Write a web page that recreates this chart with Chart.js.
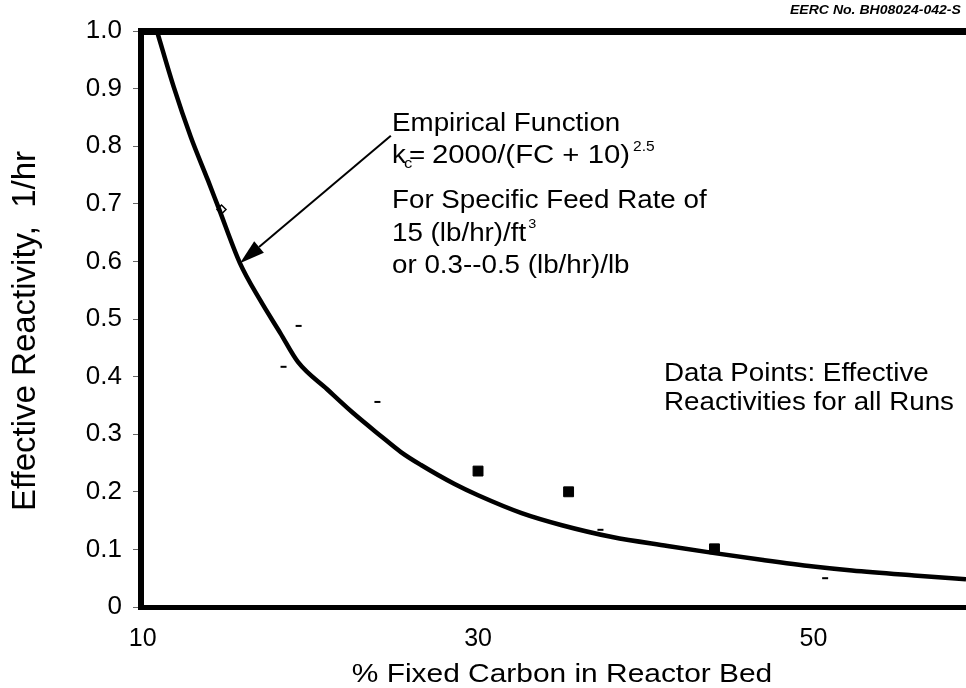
<!DOCTYPE html>
<html>
<head>
<meta charset="utf-8">
<title>Effective Reactivity</title>
<script src="https://cdn.jsdelivr.net/npm/chart.js@4"></script>
<style>
  html, body { margin:0; padding:0; background:#fff; overflow:hidden; }
  #wrap { width:966px; height:688px; }
</style>
</head>
<body>
<div id="wrap"><canvas id="grafReact" width="966" height="688"></canvas></div>
<script>
/* Reactividad efectiva vs. % carbono fijo en el lecho */

// curva empírica, punto a punto
const curveFC = [10.85, 11.85, 12.87, 13.89, 14.5, 15.8, 17.0, 18.2, 19.27, 21.0, 22.5, 24.2, 25.4, 26.6, 28.6, 30.0, 32.6, 35.0, 38.0, 41.3, 44.0, 47.0, 50.0, 52.3, 56.0, 59.1];
const curveK  = [1.0, 0.903, 0.816, 0.741, 0.695, 0.597, 0.533, 0.476, 0.425, 0.378, 0.338, 0.297, 0.269, 0.2465, 0.2135, 0.194, 0.163, 0.142, 0.1215, 0.106, 0.094, 0.0816, 0.0703, 0.0634, 0.0547, 0.048];

// puntos de las corridas
const openFC = [14.7];
const openK  = [0.69];
const dashFC = [18.4, 19.3, 24.0, 37.3, 50.7];
const dashK  = [0.417, 0.488, 0.356, 0.134, 0.050];
const runFC  = [30.0, 35.4, 44.1];
const runK   = [0.236, 0.200, 0.101];

// ejes
const xTicks = [10, 30, 50];
const yTicks = [0, 0.1, 0.2, 0.3, 0.4, 0.5, 0.6, 0.7, 0.8, 0.9, 1.0];

// flecha de la anotación (en unidades de datos)
const arrowFrom = [24.8, 0.818];
const arrowTo   = [15.8, 0.597];

const FAM = '"Liberation Sans", Arial, Helvetica, sans-serif';
const xy = (xs, ys) => xs.map((x, i) => ({ x, y: ys[i] }));

function texto (ctx, str, x, y, size, o = {}) {
  ctx.save();
  ctx.font = `${o.style || ''} ${o.weight || ''} ${size}px ${FAM}`;
  let sx = o.sx || 1;
  if (o.fit) sx = o.fit / ctx.measureText(str).width;
  ctx.translate(x, y);
  if (o.rot) ctx.rotate(o.rot);
  ctx.scale(sx, o.sy || 1);
  ctx.textAlign = o.align || 'left';
  ctx.textBaseline = 'alphabetic';
  ctx.fillStyle = '#000';
  ctx.fillText(str, 0, 0);
  const w = ctx.measureText(str).width * sx;
  ctx.restore();
  return w;
}

const marco = {
  id: 'marco',
  afterDraw (chart) {
    const { ctx, chartArea: a, scales: { x, y } } = chart;
    ctx.save();
    ctx.fillStyle = '#000';
    // bordes gruesos arriba, izquierda y abajo
    ctx.fillRect(a.left - 3, a.top - 3, a.right - a.left + 3, 7);
    ctx.fillRect(a.left - 3, a.top - 3, 6, a.bottom - a.top + 6);
    ctx.fillRect(a.left - 3, a.bottom - 2, a.right - a.left + 3, 5);

    // flecha
    const x0 = x.getPixelForValue(arrowFrom[0]), y0 = y.getPixelForValue(arrowFrom[1]);
    const x1 = x.getPixelForValue(arrowTo[0]),   y1 = y.getPixelForValue(arrowTo[1]);
    const ang = Math.atan2(y1 - y0, x1 - x0);
    const L = 25, H = 7.5;
    const bx = x1 - Math.cos(ang) * L, by = y1 - Math.sin(ang) * L;
    ctx.strokeStyle = '#000';
    ctx.lineWidth = 2;
    ctx.beginPath(); ctx.moveTo(x0, y0); ctx.lineTo(bx, by); ctx.stroke();
    ctx.beginPath();
    ctx.moveTo(x1, y1);
    ctx.lineTo(bx + Math.sin(ang) * H, by - Math.cos(ang) * H);
    ctx.lineTo(bx - Math.sin(ang) * H, by + Math.cos(ang) * H);
    ctx.closePath(); ctx.fill();
    ctx.restore();

    // textos
    const sx = 1.11, fs = 25;
    texto(ctx, 'Empirical Function', 392, 131, fs, { sx });
    texto(ctx, 'k', 392, 163, fs, { sx });
    texto(ctx, 'c', 404, 168, 15, { sx });
    texto(ctx, '=', 409, 163, fs, { sx });
    const w = texto(ctx, '2000/(FC + 10)', 432, 163, fs, { fit: 198 });
    texto(ctx, '2.5', 432 + w + 3, 151, 14, { sx });
    texto(ctx, 'For Specific Feed Rate of', 392, 208, fs, { sx });
    const w2 = texto(ctx, '15 (lb/hr)/ft', 392, 241, fs, { sx });
    texto(ctx, '3', 392 + w2 + 2, 228, 13, { sx });
    texto(ctx, 'or 0.3--0.5 (lb/hr)/lb', 392, 273, fs, { sx });

    texto(ctx, 'Data Points: Effective', 664, 381, fs, { sx });
    texto(ctx, 'Reactivities for all Runs', 664, 410, fs, { sx });

    texto(ctx, 'EERC No. BH08024-042-S', 790, 14, 13, { sx: 1.08, style: 'italic', weight: 'bold' });

    // títulos de ejes
    texto(ctx, '% Fixed Carbon in Reactor Bed', 562, 682, 26, { sx: 1.15, align: 'center' });
    texto(ctx, 'Effective Reactivity,  1/hr', 35, 331, 33, { rot: -Math.PI / 2, align: 'center' });
  }
};

new Chart(document.getElementById('grafReact'), {
  type: 'scatter',
  data: {
    datasets: [
      { data: xy(curveFC, curveK), showLine: true, pointRadius: 0,
        borderColor: '#000', borderWidth: 4.5, cubicInterpolationMode: 'monotone' },
      { data: xy(openFC, openK), pointStyle: 'rectRot', pointRadius: 4.5,
        backgroundColor: '#fff', borderColor: '#000', borderWidth: 1.5 },
      { data: xy(dashFC, dashK), pointStyle: 'line', pointRadius: 3,
        borderColor: '#000', borderWidth: 2 },
      { data: xy(runFC, runK), pointStyle: 'rect', pointRadius: 7,
        backgroundColor: '#000', borderColor: '#000', borderWidth: 1 }
    ]
  },
  options: {
    responsive: false,
    animation: false,
    devicePixelRatio: 1,
    layout: { autoPadding: false, padding: { top: 31, right: 0, bottom: 0, left: 0 } },
    plugins: { legend: { display: false }, tooltip: { enabled: false } },
    scales: {
      x: {
        type: 'linear', min: 9.9, max: 59.1,
        afterBuildTicks: s => { s.ticks = xTicks.map(v => ({ value: v })); },
        afterFit: s => { s.height = 81; s.paddingLeft = 0; s.paddingRight = 0; },
        grid: { display: false, drawTicks: false },
        border: { display: false },
        ticks: { autoSkip: false, padding: 17, color: '#000',
                 font: { family: FAM, size: 25 }, callback: v => String(v) }
      },
      y: {
        type: 'linear', min: 0, max: 1,
        afterBuildTicks: s => { s.ticks = yTicks.map(v => ({ value: v })); },
        afterFit: s => { s.width = 141; },
        grid: { drawOnChartArea: false, tickLength: 8, color: '#666', lineWidth: 1 },
        border: { display: false },
        ticks: { autoSkip: false, padding: 11, color: '#000',
                 font: { family: FAM, size: 26 },
                 callback: v => v === 0 ? '0' : v.toFixed(1) }
      }
    }
  },
  plugins: [marco]
});
</script>
</body>
</html>
